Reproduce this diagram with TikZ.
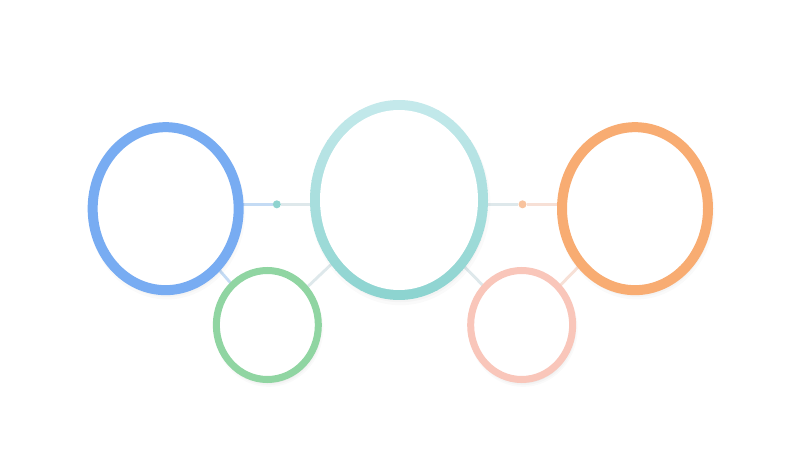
\documentclass[tikz,border=0pt]{standalone}
\usetikzlibrary{shapes,calc,backgrounds,shadows}
\definecolor{ringblue}{HTML}{78ACF2}
\definecolor{ringorange}{HTML}{F8AC72}
\definecolor{ringgreen}{HTML}{90D5A2}
\definecolor{ringpink}{HTML}{F9C6BA}
\definecolor{tealtop}{HTML}{C4E9EB}
\definecolor{tealbot}{HTML}{8DD4D0}
\definecolor{lineblue}{HTML}{C4DBF4}
\definecolor{linegray}{HTML}{DEE8EB}
\definecolor{linepeach}{HTML}{F7E0D6}
\definecolor{dotteal}{HTML}{8FD3CF}
\definecolor{dotorange}{HTML}{F8C39E}
\pgfdeclarelayer{bottom}
\pgfsetlayers{bottom,background,main}

\begin{document}
\begin{tikzpicture}[x=0.3mm, y=-0.3mm]
\tikzstyle{soft}=[general shadow={fill=black, draw=none, opacity=.02, shadow xshift=.4mm, shadow yshift=-1mm, shadow scale=1.07},
  general shadow={fill=black, draw=none, opacity=.025, shadow xshift=.4mm, shadow yshift=-1mm, shadow scale=1.04},
  general shadow={fill=black, draw=none, opacity=.03, shadow xshift=.4mm, shadow yshift=-1mm, shadow scale=1.01}]
\tikzstyle{main}=[ellipse, inner sep=0pt, fill=white, line width=3mm, node distance=70mm, soft]
\tikzstyle{big}=[main, minimum width=50.4mm, minimum height=57mm]
\tikzstyle{mid}=[main, minimum width=43.8mm, minimum height=48.9mm]
\tikzstyle{small}=[main, line width=2.1mm, minimum width=30.6mm, minimum height=32.7mm]
\tikzstyle{dot}=[circle, inner sep=0pt, minimum size=2.4mm]
\tikzstyle{link}=[line width=0.85mm]

  \useasboundingbox (0,0) rectangle (800,450);
  \begin{pgfonlayer}{bottom}
    \fill[white] (0,0) rectangle (800,450);
  \end{pgfonlayer}

  \node[big] (hub) at (399,200) {};
  % teal ring, light at the top and darker at the bottom
  \begin{scope}
    \clip (hub.center) ellipse [x radius=26.7mm, y radius=30mm];
    \foreach \i in {0,...,19}{
      \pgfmathtruncatemacro\p{\i*100/19}
      \fill[tealbot!\p!tealtop] (300,{100+10*\i}) rectangle (500,{111+10*\i});
    }
  \end{scope}
  \fill[white] (hub.center) ellipse [x radius=23.7mm, y radius=27mm];

  \node[mid, draw=ringblue]   (blue)   [left of =hub,  yshift=-2.6mm] {};
  \node[mid, draw=ringorange] (orange) [right of =hub, xshift=0.8mm, yshift=-2.6mm] {};

  \node[small, draw=ringgreen] (green) [left of =hub,  xshift=30.5mm,  yshift=-37.5mm] {};
  \node[small, draw=ringpink]  (pink)  [right of =hub, xshift=-33.2mm, yshift=-37.5mm] {};

  \node[dot, fill=dotteal]   (d1) at ($(blue.east)!0.5!(hub.west)$) {};
  \node[dot, fill=dotorange] (d2) at ($(hub.east)!0.5!(orange.west)$) {};

  \begin{scope}[on background layer]
  \draw[link, lineblue]  (d1) -- (d1 -| blue.center);
  \draw[link, linegray]  (d1) -- (d1 -| hub.center);
  \draw[link, linegray]  (d2) -- (d2 -| hub.center);
  \draw[link, linepeach] (d2) -- (d2 -| orange.center);

  \draw[link, lineblue]  (blue.center) -- (green.center);
  \draw[link, linegray]  (hub.center) -- (green.center);
  \draw[link, linegray]  (hub.center) -- (pink.center);
  \draw[link, linepeach] (orange.center) -- (pink.center);
  \end{scope}

\end{tikzpicture}
\end{document}
